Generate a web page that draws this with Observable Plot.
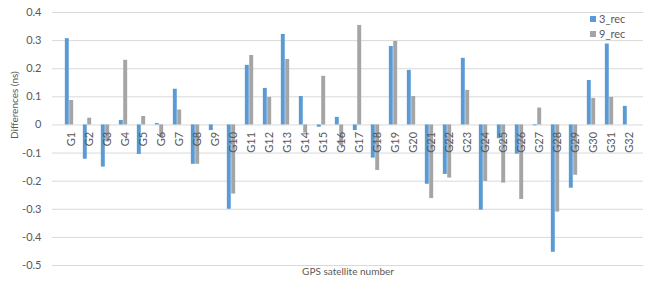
<!DOCTYPE html>
<html>
<head>
<meta charset="utf-8">
<script src="https://cdn.jsdelivr.net/npm/d3@7"></script>
<script src="https://cdn.jsdelivr.net/npm/@observablehq/plot@0.6"></script>
<style>
  html, body { margin: 0; padding: 0; background: #fff; }
  #wrap { position: relative; width: 652px; height: 285px; font-family: Lato, "Open Sans", sans-serif; color: #595959; }
  #legend { position: absolute; left: 590px; top: 11px; font-size: 11px; line-height: 15px; }
  #legend .item { display: flex; align-items: center; }
  #legend .sw { width: 6px; height: 6px; margin-right: 3px; }
</style>
</head>
<body>
<div id="wrap">
  <div id="chart"></div>
  <div id="legend"></div>
</div>
<script>
const categories = ["G1","G2","G3","G4","G5","G6","G7","G8","G9","G10","G11","G12","G13","G14","G15","G16",
  "G17","G18","G19","G20","G21","G22","G23","G24","G25","G26","G27","G28","G29","G30","G31","G32"];
const seriesNames = ["3_rec", "9_rec"];
const seriesColors = ["#5B9BD5", "#A5A5A5"];
const rec3 = [0.307,-0.122,-0.150,0.016,-0.105,0.005,0.127,-0.140,-0.020,-0.300,0.212,0.130,0.322,0.101,-0.008,0.027,
  -0.020,-0.118,0.279,0.194,-0.211,-0.176,0.237,-0.303,-0.049,-0.104,-0.003,-0.453,-0.225,0.158,0.288,0.066];
const rec9 = [0.087,0.024,-0.060,0.230,0.030,-0.043,0.053,-0.140,null,-0.246,0.247,0.098,0.233,-0.029,0.173,-0.075,
  0.354,-0.162,0.297,0.101,-0.262,-0.189,0.123,-0.201,-0.207,-0.265,0.060,-0.310,-0.179,0.094,0.098,null];
const yTicks = [-0.5,-0.4,-0.3,-0.2,-0.1,0,0.1,0.2,0.3,0.4];
const yLabel = "Differences (ns)";
const xLabel = "GPS satellite number";

const d3rec = categories.map((c, i) => ({cat: c, value: rec3[i]}));
const d9rec = categories.map((c, i) => ({cat: c, value: rec9[i]})).filter(d => d.value != null);

const band = 591 / 32;
const bw = 4.4;

const chart = Plot.plot({
  width: 652,
  height: 285,
  marginLeft: 52,
  marginRight: 9,
  marginTop: 12,
  marginBottom: 20,
  style: {fontFamily: "Lato, 'Open Sans', sans-serif", fontSize: "11px", color: "#595959", background: "#fff"},
  x: {domain: categories, padding: 0, axis: null},
  y: {domain: [-0.5, 0.4], axis: null},
  marks: [
    Plot.gridY(yTicks, {stroke: "#d9d9d9", strokeOpacity: 1}),
    Plot.axisY(yTicks, {tickSize: 0, tickPadding: 11, tickFormat: d => String(d), label: null, fontSize: 11}),
    Plot.barY(d3rec, {x: "cat", y: "value", fill: seriesColors[0], insetLeft: band / 2 - bw, insetRight: band / 2}),
    Plot.barY(d9rec, {x: "cat", y: "value", fill: seriesColors[1], insetLeft: band / 2, insetRight: band / 2 - bw}),
    Plot.text(categories, {x: d => d, y: () => 0, rotate: -90, textAnchor: "end", dy: 7, dx: 1.5, fontSize: 11}),
    Plot.text([yLabel], {frameAnchor: "left", dx: -38, rotate: -90, fontSize: 10}),
    Plot.text([xLabel], {frameAnchor: "bottom", dy: 9, fontSize: 10})
  ]
});
document.getElementById("chart").appendChild(chart);

const legend = document.getElementById("legend");
seriesNames.forEach((n, i) => {
  const item = document.createElement("div");
  item.className = "item";
  item.innerHTML = `<span class="sw" style="background:${seriesColors[i]}"></span><span>${n}</span>`;
  legend.appendChild(item);
});
</script>
</body>
</html>
